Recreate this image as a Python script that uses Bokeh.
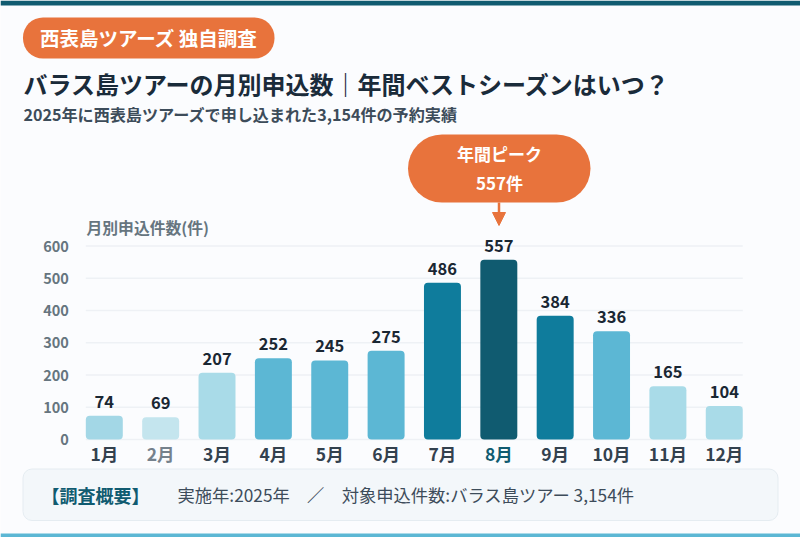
from bokeh.embed import file_html
from bokeh.resources import INLINE
from bokeh.plotting import figure
from bokeh.models import (ColumnDataSource, Range1d, Label,
                          BoxAnnotation, FixedTicker, Arrow, NormalHead)

months = ["1月", "2月", "3月", "4月", "5月", "6月", "7月", "8月", "9月", "10月", "11月", "12月"]
applications = [74, 69, 207, 252, 245, 275, 486, 557, 384, 336, 165, 104]
y_ticks = [0, 100, 200, 300, 400, 500, 600]
badge_text = "西表島ツアーズ 独自調査"
title_text = "バラス島ツアーの月別申込数｜年間ベストシーズンはいつ？"
subtitle_text = "2025年に西表島ツアーズで申し込まれた3,154件の予約実績"
y_title = "月別申込件数(件)"
peak_lines = ["年間ピーク", "557件"]
summary_head = "【調査概要】"
summary_body = "実施年:2025年　／　対象申込件数:バラス島ツアー 3,154件"

bar_colors = ["#a3d7e6", "#c4e5ee", "#a9dbe8", "#5cb7d4", "#5cb7d4", "#5cb7d4",
              "#0f7c9c", "#105b70", "#0f7c9c", "#5cb7d4", "#a9dbe8", "#a9dbe8"]
month_colors = ["#33414e", "#75818c", "#33414e", "#33414e", "#33414e", "#33414e",
                "#33414e", "#105b70", "#33414e", "#33414e", "#33414e", "#33414e"]

FONT = "Noto Sans CJK JP"
W, H = 800, 537
BG = "#fbfcfe"
ORANGE = "#e8733c"
BAR_WIDTH = 0.656
PX_PER_CAT = 56.36
PX_PER_UNIT = 193.5 / 600
LEFT_PAD = 103.8     # px from left edge to first category centre
BOTTOM_PAD = 98      # px from bottom edge to value 0

positions = list(range(len(months)))
source = ColumnDataSource(dict(pos=positions, value=applications, color=bar_colors))

x0 = -LEFT_PAD / PX_PER_CAT
y0 = -BOTTOM_PAD / PX_PER_UNIT
p = figure(width=W, height=H, output_backend="svg", toolbar_location=None,
           x_range=Range1d(x0, x0 + W / PX_PER_CAT),
           y_range=Range1d(y0, y0 + H / PX_PER_UNIT),
           min_border_left=0, min_border_right=0, min_border_top=0, min_border_bottom=0,
           background_fill_color=BG, border_fill_color=BG)
p.outline_line_color = None
p.xgrid.visible = False
p.ygrid.visible = False
p.xaxis.visible = False
ax = p.yaxis[0]
ax.fixed_location = -BAR_WIDTH / 2
ax.ticker = FixedTicker(ticks=y_ticks)
ax.axis_line_color = None
ax.major_tick_line_color = None
ax.minor_tick_line_color = None
ax.major_label_standoff = 11
ax.major_label_text_font = FONT
ax.major_label_text_font_style = "bold"
ax.major_label_text_font_size = "14.5px"
ax.major_label_text_color = "#66757f"

n_ticks = len(y_ticks)
p.segment(x0=[-BAR_WIDTH / 2] * n_ticks, x1=[positions[-1] + BAR_WIDTH / 2] * n_ticks,
          y0=y_ticks, y1=y_ticks, line_color="#eef1f5", line_width=1.5)

p.vbar(x="pos", top="value", bottom=0, width=BAR_WIDTH, source=source, fill_color="color",
       line_color=None, border_radius=4)

for pos, month, value, mcolor in zip(positions, months, applications, month_colors):
    p.add_layout(Label(x=pos, y=value, text=str(value), y_offset=8,
                       text_align="center", text_baseline="bottom", text_font=FONT,
                       text_font_style="bold", text_font_size="16.5px", text_color="#1a2733"))
    p.add_layout(Label(x=pos, y=0, text=month, y_offset=-14,
                       text_align="center", text_baseline="middle", text_font=FONT,
                       text_font_style="bold", text_font_size="17.5px", text_color=mcolor))


def box(l, r, t, b, fill, radius, line=None):
    p.add_layout(BoxAnnotation(left=l, right=r, top=t, bottom=b,
                               left_units="canvas", right_units="canvas", top_units="canvas", bottom_units="canvas",
                               fill_color=fill, fill_alpha=1, line_color=line, line_alpha=1 if line else 0,
                               line_width=1, border_radius=radius, level="overlay"))


def text(x, y, s, size, color, style="bold", align="left", font=FONT):
    p.add_layout(Label(x=x, y=y, x_units="canvas", y_units="canvas", text=s, text_font=font,
                       text_font_size=size, text_font_style=style, text_color=color,
                       text_align=align, text_baseline="middle", level="overlay"))


box(0, 800, 0, 5, "#105b70", 0)
box(0, 800, 533, 537, "#5cb7d4", 0)
box(22.5, 274, 17, 58, ORANGE, 20)
text(39.5, 36.5, badge_text, "19.5px", "#ffffff")
text(23, 83, title_text, "24px", "#1a2b3a")
text(23, 113, subtitle_text, "16.1px", "#3d4c5a")
text(86, 227, y_title, "15.8px", "#66757f")
box(407.5, 590, 134, 202, ORANGE, 34)
text(499, 153, peak_lines[0], "17px", "#ffffff", align="center")
text(499, 182, peak_lines[1], "17px", "#ffffff", align="center")
p.add_layout(Arrow(x_start=498.5, x_end=498.5, y_start=202, y_end=225,
                   start_units="canvas", end_units="canvas", line_color=ORANGE, line_width=2.5,
                   end=NormalHead(size=13, fill_color=ORANGE, line_color=ORANGE), level="overlay"))
box(22.5, 777.5, 468.5, 520, "#f3f7fa", 9, "#e5ecf1")
text(41, 494, summary_head, "18px", "#105b70")
text(177, 494, summary_body, "17.3px", "#3d4c5a", style="normal")

open("out.html", "w").write(file_html(p, INLINE))
